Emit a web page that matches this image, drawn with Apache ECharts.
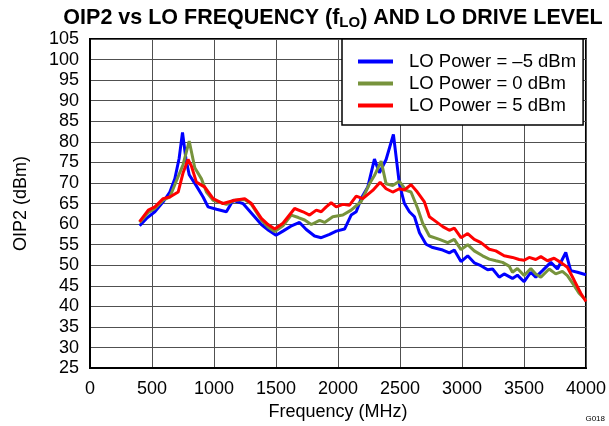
<!DOCTYPE html>
<html>
<head>
<meta charset="utf-8">
<script src="https://cdn.jsdelivr.net/npm/echarts@6/dist/echarts.min.js"></script>
<style>
  html, body { margin: 0; padding: 0; background: #fff; }
  #chart { width: 609px; height: 426px; }
</style>
</head>
<body>
<div id="chart"></div>
<script>
// LO power = -5 dBm
var freqM5 = [400, 456, 523, 590, 644, 684, 719, 746, 773, 800, 858, 912, 952, 1020, 1100, 1154, 1234, 1315, 1382, 1440, 1500, 1556, 1620, 1690, 1744, 1811, 1865, 1932, 1986, 2053, 2106, 2147, 2187, 2240, 2294, 2334, 2388, 2447, 2495, 2536, 2576, 2617, 2657, 2710, 2764, 2845, 2898, 2938, 2992, 3046, 3099, 3153, 3207, 3247, 3300, 3340, 3407, 3447, 3501, 3555, 3595, 3649, 3716, 3770, 3837, 3877, 3931, 4000];
var oip2M5 = [59.6, 61.4, 63, 65.4, 67.8, 71, 76, 82.3, 76, 72, 69.3, 66.6, 64.2, 63.6, 63, 65.8, 65, 62.2, 59.9, 58.5, 57.3, 58.3, 59.5, 60.4, 58.7, 57.1, 56.7, 57.5, 58.3, 58.8, 62.2, 63, 66.2, 69, 75.8, 72.5, 75.7, 81.8, 69.8, 65, 63, 61.8, 57.9, 55.1, 54.3, 53.7, 53, 53.7, 50.9, 52.3, 50.6, 49.9, 48.9, 49.1, 47.1, 47.9, 46.8, 47.6, 46, 48.3, 47.1, 48.7, 50.7, 49.1, 53.1, 48.7, 48.3, 47.7];

// LO power = 0 dBm
var freq0 = [400, 470, 523, 590, 644, 698, 751, 800, 845, 899, 939, 993, 1100, 1167, 1248, 1302, 1382, 1436, 1490, 1556, 1623, 1680, 1731, 1785, 1852, 1892, 1958, 2039, 2106, 2187, 2254, 2294, 2348, 2388, 2441, 2495, 2549, 2589, 2643, 2683, 2737, 2818, 2885, 2938, 2992, 3046, 3099, 3166, 3220, 3273, 3327, 3380, 3407, 3447, 3501, 3555, 3595, 3636, 3703, 3756, 3810, 3850, 3904, 3944, 4000];
var oip20 = [60.4, 62.8, 63.8, 65.8, 66.6, 70.6, 74.5, 80.2, 73.7, 71, 67.8, 65.8, 64.8, 65.8, 66, 64.8, 61, 59.3, 58.2, 59.6, 62.2, 61.6, 61, 59.9, 60.9, 60.4, 61.8, 62.2, 63.4, 65.5, 69.8, 71.8, 75.3, 69.8, 69.4, 70.4, 68.2, 67.8, 63.8, 60.2, 57.1, 56.3, 55.5, 56.3, 53.8, 55, 53.5, 52.3, 51.5, 51.1, 50.7, 49.8, 48.3, 49.2, 47.5, 49.2, 47.9, 47.1, 49.1, 47.9, 48.5, 47.5, 45.1, 43.2, 41.5];

// LO power = 5 dBm
var freqP5 = [400, 470, 523, 590, 644, 711, 751, 791, 818, 858, 926, 993, 1073, 1167, 1248, 1302, 1382, 1436, 1490, 1556, 1650, 1718, 1771, 1825, 1865, 1905, 1945, 1986, 2039, 2093, 2147, 2200, 2280, 2340, 2388, 2441, 2495, 2536, 2589, 2640, 2697, 2737, 2791, 2845, 2898, 2938, 2992, 3046, 3099, 3153, 3220, 3273, 3340, 3407, 3461, 3501, 3542, 3595, 3636, 3689, 3743, 3796, 3850, 3904, 3958, 4000];
var oip2P5 = [60.6, 63.4, 64.2, 66.2, 66.6, 67.8, 72.5, 75.7, 74.1, 70.2, 69, 66.2, 65, 65.8, 66.2, 65, 61.4, 59.9, 58.8, 60.2, 63.8, 63, 62.2, 63.4, 63, 64.2, 65.2, 64.2, 64.8, 64.6, 66.8, 66.2, 68.2, 70.2, 68.6, 67.8, 68.6, 68.3, 69.6, 67.8, 65.4, 61.8, 60.6, 59.4, 58.5, 59, 56.7, 57.7, 56.3, 55.5, 53.9, 53.5, 52.3, 51.9, 51.4, 51.2, 51.9, 51.4, 52.1, 51.1, 51.7, 50.7, 49.5, 46.4, 43.2, 41.2];

var seriesNames = ['LO Power = \u20135 dBm', 'LO Power = 0 dBm', 'LO Power = 5 dBm'];
var seriesColors = ['#0000ff', '#77933c', '#ff0000'];

function pairs(xs, ys) {
    return xs.map(function (x, i) { return [x, ys[i]]; });
}

var font = 'Liberation Sans, Arial, sans-serif';
var chart = echarts.init(document.getElementById('chart'));

var allData = [pairs(freqM5, oip2M5), pairs(freq0, oip20), pairs(freqP5, oip2P5)];

var option = {
    animation: false,
    backgroundColor: '#fff',
    title: {
        text: 'OIP2 vs LO FREQUENCY (f{sub|LO}) AND LO DRIVE LEVEL',
        left: 328,
        textAlign: 'center',
        top: 2,
        textStyle: {
            fontFamily: font,
            fontSize: 21.5,
            fontWeight: 'bold',
            color: '#000',
            rich: {
                sub: { fontFamily: font, fontSize: 15, fontWeight: 'bold', color: '#000', verticalAlign: 'bottom', padding: [8, 0, 0, 0] }
            }
        }
    },
    grid: {
        left: 90, right: 22, top: 39, bottom: 51,
        show: true, borderColor: '#000', borderWidth: 2
    },
    legend: {
        left: 342, top: 39,
        orient: 'vertical',
        backgroundColor: '#fff',
        borderColor: '#000',
        borderWidth: 1.5,
        borderRadius: 0,
        padding: [13, 7, 10, 16],
        itemGap: 3,
        itemWidth: 35,
        itemHeight: 4,
        icon: 'rect',
        z: 10,
        textStyle: { fontFamily: font, fontSize: 18.5, color: '#000', padding: [0, 0, 0, 11] },
        data: seriesNames
    },
    xAxis: {
        type: 'value',
        min: 0, max: 4000, interval: 500,
        name: 'Frequency (MHz)',
        nameLocation: 'middle',
        nameGap: 31,
        nameTextStyle: { fontFamily: font, fontSize: 18, color: '#000' },
        axisLine: { show: true, lineStyle: { color: '#000', width: 2 } },
        axisTick: { show: false },
        axisLabel: {
            fontFamily: font, fontSize: 18, color: '#000', margin: 12,
            formatter: function (v) { return String(v); }
        },
        splitLine: { show: true, lineStyle: { color: '#505050', width: 1 } }
    },
    yAxis: {
        type: 'value',
        min: 25, max: 105, interval: 5,
        name: 'OIP2 (dBm)',
        nameLocation: 'middle',
        nameGap: 60,
        nameTextStyle: { fontFamily: font, fontSize: 18, color: '#000' },
        axisLine: { show: true, lineStyle: { color: '#000', width: 2 } },
        axisTick: { show: false },
        axisLabel: { fontFamily: font, fontSize: 18, color: '#000', margin: 11, padding: [6, 0, 0, 0] },
        splitLine: { show: true, lineStyle: { color: '#505050', width: 1 } }
    },
    graphic: [{
        type: 'text',
        right: 4, bottom: 3,
        style: { text: 'G018', fontFamily: font, fontSize: 8, fill: '#000' }
    }],
    series: seriesNames.map(function (name, i) {
        return {
            name: name,
            type: 'line',
            data: allData[i],
            showSymbol: false,
            symbol: 'none',
            lineStyle: { color: seriesColors[i], width: 3 },
            itemStyle: { color: seriesColors[i] },
            z: 2 + i
        };
    })
};

chart.setOption(option);
</script>
</body>
</html>
